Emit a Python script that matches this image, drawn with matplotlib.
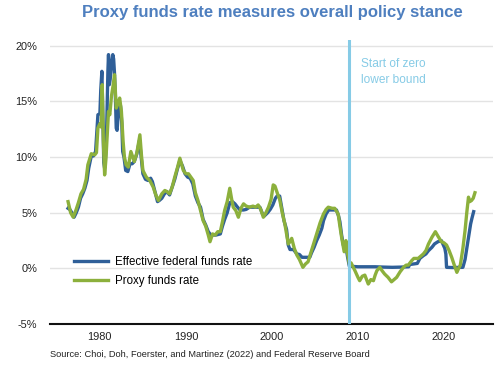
import matplotlib
matplotlib.use('Agg')
import matplotlib.pyplot as plt

plt.rcParams['font.family'] = ['Liberation Sans', 'DejaVu Sans']

# Effective federal funds rate
effr_year = [1976.3, 1976.5, 1976.75, 1977.0, 1977.25, 1977.5, 1977.75, 1978.0, 1978.25, 1978.5,
             1978.7, 1979.0, 1979.25, 1979.5, 1979.77, 1980.0, 1980.1, 1980.23, 1980.35, 1980.45,
             1980.55, 1980.7, 1980.8, 1980.93, 1981.0, 1981.1, 1981.2, 1981.35, 1981.5, 1981.6,
             1981.7, 1981.8, 1981.9, 1982.0, 1982.1, 1982.25, 1982.4, 1982.55, 1982.65, 1982.8,
             1983.0, 1983.25, 1983.5, 1983.75, 1984.0, 1984.3, 1984.6, 1984.85, 1985.0, 1985.3,
             1985.6, 1985.9, 1986.1, 1986.4, 1986.7, 1986.9, 1987.2, 1987.5, 1987.8, 1988.1,
             1988.4, 1988.7, 1989.0, 1989.3, 1989.6, 1989.9, 1990.2, 1990.5, 1990.8, 1991.1,
             1991.4, 1991.7, 1992.0, 1992.3, 1992.6, 1992.9, 1993.5, 1994.0, 1994.25, 1994.5,
             1994.8, 1995.1, 1995.4, 1995.7, 1996.0, 1996.3, 1996.7, 1997.0, 1997.4, 1998.0,
             1998.6, 1998.9, 1999.1, 1999.5, 1999.8, 2000.1, 2000.4, 2000.6, 2000.9, 2001.1,
             2001.4, 2001.7, 2001.9, 2002.1, 2002.5, 2002.9, 2003.2, 2003.5, 2004.0, 2004.4,
             2004.6, 2004.9, 2005.2, 2005.5, 2005.8, 2006.0, 2006.3, 2006.6, 2007.0, 2007.5,
             2007.75, 2007.9, 2008.1, 2008.3, 2008.6, 2008.8, 2009.0, 2010.0, 2011.0, 2012.0,
             2013.0, 2014.0, 2015.0, 2015.9, 2016.0, 2016.5, 2016.9, 2017.2, 2017.6, 2017.9,
             2018.2, 2018.6, 2018.9, 2019.3, 2019.7, 2020.1, 2020.22, 2020.3, 2021.0, 2022.2,
             2022.45, 2022.65, 2022.85, 2023.1, 2023.25, 2023.45]
effr = [5.4, 5.3, 5.0, 4.6, 5.0, 5.5, 6.3, 6.7, 7.2, 7.9,
        9.0, 10.1, 10.1, 10.5, 13.8, 13.9, 16.0, 17.7, 13.5, 9.5,
        9.0, 10.5, 13.0, 17.7, 19.2, 16.5, 17.0, 18.5, 19.2, 18.8,
        17.5, 15.5, 12.6, 12.4, 13.5, 14.8, 14.6, 13.0, 10.5, 10.0,
        8.8, 8.7, 9.4, 9.4, 9.6, 10.3, 11.5, 9.6, 8.5, 8.0,
        7.9, 8.1, 7.8, 6.9, 6.0, 6.1, 6.3, 6.7, 6.9, 6.6,
        7.3, 8.0, 8.9, 9.7, 9.2, 8.5, 8.2, 8.1, 7.6, 6.5,
        5.9, 5.5, 4.4, 3.9, 3.3, 3.0, 3.0, 3.1, 3.8, 4.4,
        5.0, 5.9, 6.0, 5.8, 5.5, 5.25, 5.25, 5.3, 5.5, 5.5,
        5.5, 4.9, 4.7, 5.0, 5.3, 5.7, 6.3, 6.5, 6.5, 5.6,
        4.3, 3.5, 2.1, 1.7, 1.7, 1.3, 1.25, 1.0, 1.0, 1.0,
        1.4, 1.9, 2.5, 3.0, 3.6, 4.3, 4.9, 5.25, 5.25, 5.25,
        4.7, 4.2, 3.0, 2.1, 2.0, 1.0, 0.2, 0.15, 0.15, 0.15,
        0.12, 0.1, 0.12, 0.15, 0.35, 0.4, 0.45, 0.9, 1.15, 1.3,
        1.6, 1.9, 2.2, 2.4, 2.5, 1.8, 1.3, 0.1, 0.08, 0.1,
        0.8, 1.8, 2.8, 4.0, 4.5, 5.1]

# Proxy funds rate
proxy_year = [1976.3, 1976.6, 1976.9, 1977.2, 1977.5, 1977.8, 1978.1, 1978.4, 1978.6, 1978.8,
              1979.0, 1979.4, 1979.6, 1979.77, 1980.0, 1980.15, 1980.27, 1980.4, 1980.55, 1980.7,
              1980.85, 1981.0, 1981.15, 1981.35, 1981.55, 1981.7, 1981.9, 1982.1, 1982.3, 1982.5,
              1982.7, 1982.85, 1983.05, 1983.3, 1983.6, 1984.0, 1984.3, 1984.65, 1984.85, 1985.0,
              1985.4, 1985.8, 1986.2, 1986.5, 1986.8, 1987.2, 1987.55, 1987.8, 1988.1, 1988.4,
              1988.7, 1989.0, 1989.3, 1989.7, 1990.0, 1990.3, 1990.85, 1991.1, 1991.4, 1991.7,
              1992.0, 1992.3, 1992.6, 1992.8, 1993.1, 1993.4, 1993.7, 1994.0, 1994.25, 1994.5,
              1994.8, 1995.1, 1995.3, 1995.5, 1995.8, 1996.1, 1996.4, 1996.7, 1997.0, 1997.4,
              1997.8, 1998.1, 1998.4, 1998.7, 1999.0, 1999.3, 1999.6, 1999.9, 2000.15, 2000.35,
              2000.7, 2000.9, 2001.2, 2001.5, 2001.9, 2002.1, 2002.3, 2002.6, 2002.9, 2003.2,
              2003.6, 2003.9, 2004.2, 2004.6, 2005.2, 2005.6, 2006.0, 2006.3, 2006.55, 2007.0,
              2007.3, 2007.7, 2007.9, 2008.1, 2008.4, 2008.6, 2008.8, 2009.0, 2009.2, 2009.65,
              2010.0, 2010.2, 2010.5, 2010.8, 2011.0, 2011.2, 2011.5, 2011.8, 2012.0, 2012.2,
              2012.55, 2012.8, 2013.1, 2013.5, 2013.9, 2014.2, 2014.5, 2014.9, 2015.3, 2015.6,
              2015.85, 2016.25, 2016.5, 2016.8, 2017.0, 2017.3, 2017.6, 2017.9, 2018.2, 2018.6,
              2019.0, 2019.3, 2019.7, 2020.0, 2020.3, 2020.6, 2020.9, 2021.2, 2021.5, 2021.7,
              2021.9, 2022.2, 2022.45, 2022.65, 2022.85, 2023.0, 2023.2, 2023.4, 2023.6]
proxy = [6.0, 5.0, 4.6, 5.2, 5.9, 6.7, 7.1, 8.0, 9.3, 9.8,
         10.3, 10.2, 10.4, 12.6, 13.0, 12.7, 16.5, 11.5, 8.4, 9.8,
         12.0, 14.1, 13.8, 15.5, 16.5, 17.4, 14.4, 14.8, 15.3, 14.1,
         11.4, 10.0, 9.3, 9.1, 10.5, 9.6, 10.4, 12.0, 10.0, 8.8,
         8.2, 7.9, 7.3, 6.6, 6.1, 6.7, 7.0, 6.9, 6.7, 7.3,
         8.2, 9.0, 9.9, 8.8, 8.5, 8.5, 7.9, 6.8, 6.1, 5.2,
         4.3, 3.8, 3.0, 2.4, 3.1, 3.0, 3.3, 3.3, 4.2, 5.2,
         6.0, 7.2, 6.3, 5.5, 5.2, 4.6, 5.4, 5.8, 5.6, 5.5,
         5.6, 5.5, 5.7, 5.3, 4.6, 5.0, 5.5, 6.2, 7.5, 7.4,
         6.6, 6.2, 5.0, 4.0, 2.2, 2.4, 2.7, 1.8, 1.2, 0.8,
         0.1, 0.4, 0.6, 1.6, 3.1, 4.1, 4.9, 5.3, 5.5, 5.4,
         5.4, 4.9, 3.8, 2.8, 1.5, 2.5, 1.3, 0.4, 0.5, -0.2,
         -0.8, -1.1, -0.7, -0.6, -1.0, -1.4, -1.0, -1.1, -0.6, -0.2,
         0.1, -0.2, -0.5, -0.8, -1.2, -1.0, -0.8, -0.3, 0.1, 0.3,
         0.3, 0.7, 0.9, 0.9, 0.9, 1.1, 1.3, 1.6, 2.2, 2.8,
         3.3, 2.9, 2.4, 2.3, 2.1, 1.6, 1.0, 0.3, -0.35, 0.0,
         0.3, 1.8, 3.4, 5.0, 6.4, 6.0, 6.1, 6.3, 6.8]

zlb_year = 2009.0
yticks = [-5, 0, 5, 10, 15, 20]
xticks = [1980, 1990, 2000, 2010, 2020]

fig = plt.figure(figsize=(5, 3.65), dpi=100)
ax = fig.add_axes([0.1, 0.112, 0.886, 0.778])

ax.plot(effr_year, effr, color='#2F5F98', lw=2.4, label='Effective federal funds rate', zorder=3)
ax.plot(proxy_year, proxy, color='#8CB03C', lw=2.4, label='Proxy funds rate', zorder=4)
ax.axvline(zlb_year, color='#86CBE6', lw=2.2, zorder=5)
ax.text(zlb_year + 1.4, 18.9, 'Start of zero\nlower bound', color='#86CBE6',
        fontsize=8.6, va='top', ha='left', linespacing=1.45)

ax.set_xlim(1974.2, 2025.7)
ax.set_ylim(-5, 20.5)
ax.set_yticks(yticks)
ax.set_yticklabels([f'{v}%' for v in yticks])
ax.set_xticks(xticks)
ax.tick_params(length=0, labelsize=7.9, colors='#222222')
ax.tick_params(axis='y', pad=9)
ax.tick_params(axis='x', pad=6)
ax.grid(axis='y', color='#E3E3E3', lw=1)
ax.set_axisbelow(True)
for s in ['left', 'right', 'top']:
    ax.spines[s].set_visible(False)
ax.spines['bottom'].set_color('#111111')
ax.spines['bottom'].set_linewidth(1.5)

ax.legend(loc='center left', bbox_to_anchor=(0.03, 0.185), frameon=False, fontsize=8.3,
          handlelength=3.0, handletextpad=0.6, labelspacing=0.6, borderpad=0.4)

fig.text(0.545, 0.965, 'Proxy funds rate measures overall policy stance', ha='center', va='center',
         fontsize=12, fontweight='bold', color='#4E7FBF')
fig.text(0.1, 0.028, 'Source: Choi, Doh, Foerster, and Martinez (2022) and Federal Reserve Board',
         fontsize=6.65, color='#222222', ha='left', va='center')

fig.savefig('out.png', dpi=100)
